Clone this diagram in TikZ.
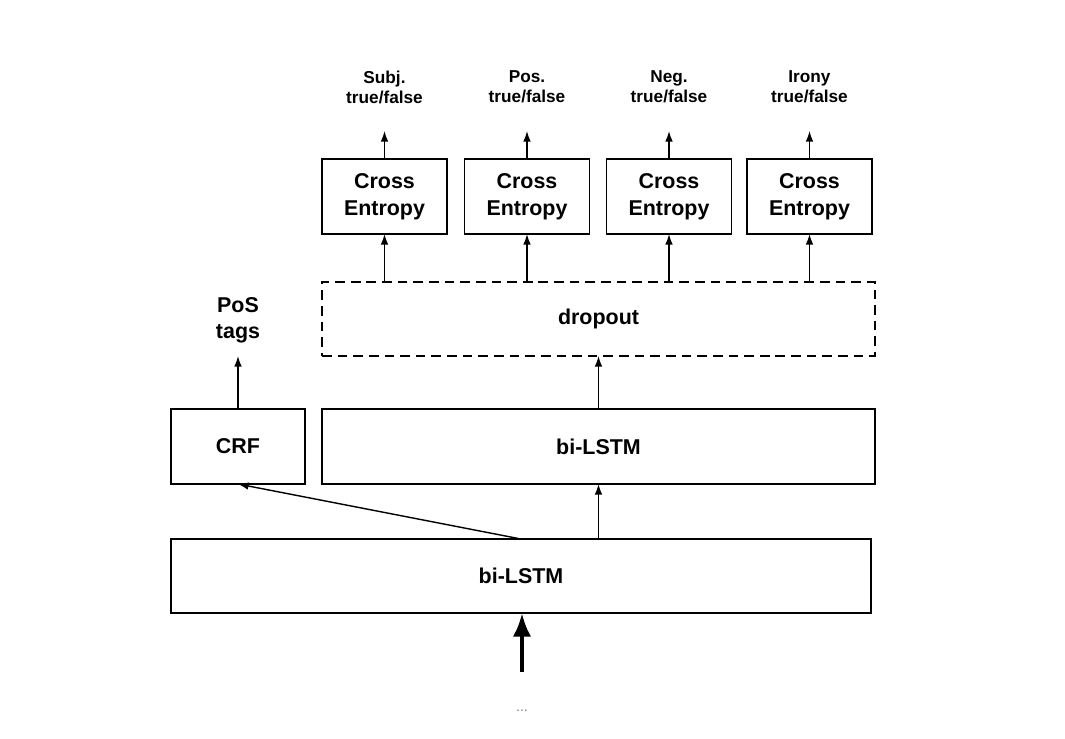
\documentclass[tikz,border=0pt]{standalone}
\usepackage{fontspec}
\setmainfont{Liberation Sans}
\usetikzlibrary{arrows.meta}
\tikzset{
    box/.style={draw, line width=0.9pt, inner sep=0pt, outer sep=0pt, align=center, font=\bfseries\fontsize{12.2}{15.3}\selectfont},
    dbox/.style={box, dash pattern=on 5.5pt off 3.4pt},
    lab/.style={align=center, font=\bfseries\fontsize{9.8}{11.4}\selectfont},
    big/.style={align=center, font=\bfseries\fontsize{12.2}{14.8}\selectfont},
    conn/.style={->, line width=0.8pt},
    fat/.style={-{Latex[length=13.5pt,width=10.5pt]}, line width=2.4pt}
}
\begin{document}
\begin{tikzpicture}[x=0.02cm, y=-0.02cm, >={Latex[length=6pt,width=4.3pt]}]
\useasboundingbox (0,0) rectangle (1065,738);
% layers
\node[box, minimum width=700*0.02cm, minimum height=74*0.02cm] (low) at (521,576) {bi-LSTM};
\node[box, minimum width=134*0.02cm, minimum height=75*0.02cm] (crf) at (238,446.5) {CRF};
\node[box, minimum width=553*0.02cm, minimum height=75*0.02cm] (up) at (598.5,446.5) {bi-LSTM};
\node[dbox, minimum width=553*0.02cm, minimum height=74*0.02cm] (drop) at (598.5,319) {dropout};
\node[big] (pos) at (238,320) {PoS\\tags};
\coordinate (postip) at (238,356);
% heads
\foreach \x/\n/\t in {384.5/subj/Subj., 527/pos/Pos., 669/neg/Neg., 809.5/irony/Irony}{
    \node[box, minimum width=125*0.02cm, minimum height=75*0.02cm] (ce\n) at (\x,196.5) {Cross\\Entropy};
    \node[lab] (l\n) at (\x,87) {\t\\true/false};
    \coordinate (t\n) at (\x,131);
    \draw[conn] (ce\n.north) -- (t\n);
    \draw[conn] (drop.north -| ce\n) -- (ce\n.south);
}
\draw[conn] (up.north) -- (drop.south);
\draw[conn] (low.north -| up) -- (up.south);
\draw[conn] (low.north) -- (crf.south);
\draw[conn] (crf.north) -- (postip);
% input
\coordinate (in) at (522,672);
\draw[fat] (in) -- (low.south -| in);
\node[text=gray, font=\fontsize{8}{9}\selectfont] (dots) at (522,711) {...};
\end{tikzpicture}
\end{document}
